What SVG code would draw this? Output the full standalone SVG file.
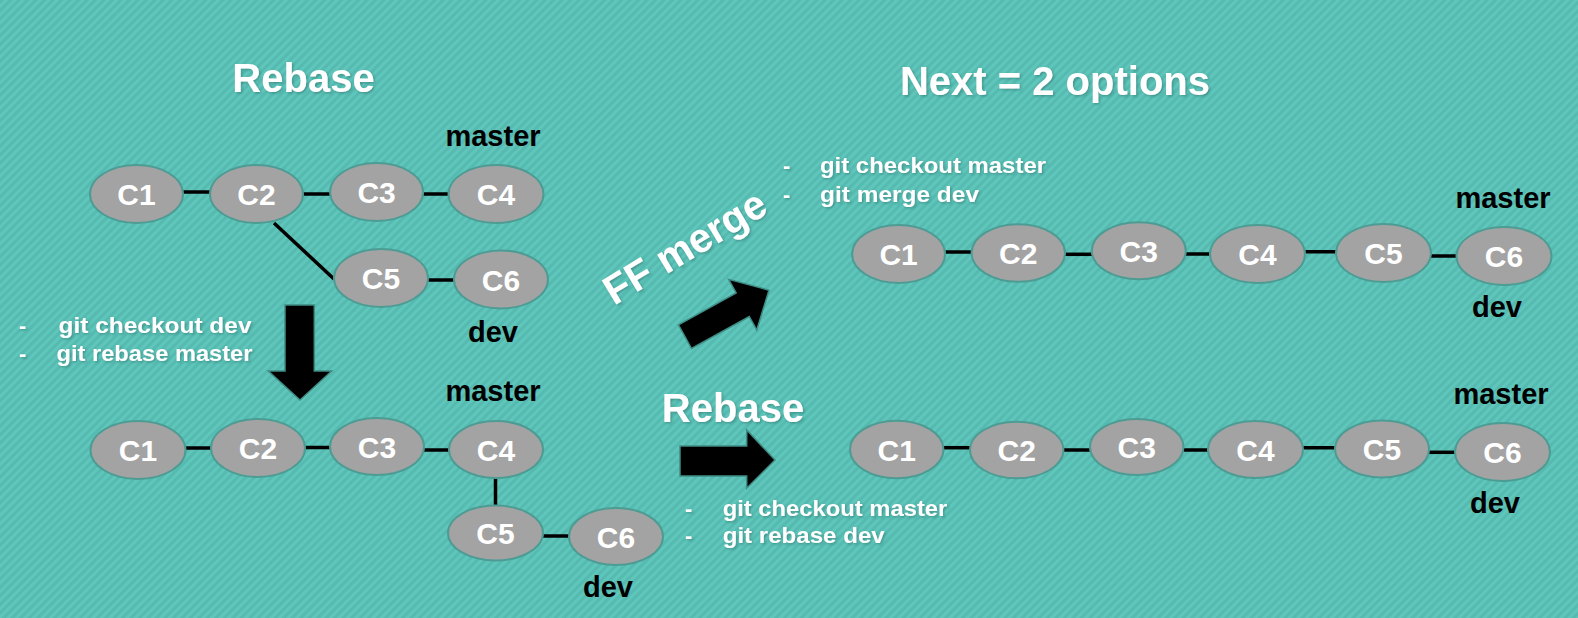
<svg xmlns="http://www.w3.org/2000/svg" width="1578" height="618" viewBox="0 0 1578 618">
<defs>
<pattern id="stripes" patternUnits="userSpaceOnUse" width="6" height="6" patternTransform="rotate(-45)">
<rect width="6" height="6" fill="#5ec6bb"/>
<rect width="6" height="3" fill="#56bab0"/>
</pattern>
<filter id="sh" x="-10%" y="-20%" width="120%" height="140%">
<feDropShadow dx="1.5" dy="1.5" stdDeviation="1" flood-color="#2a6f68" flood-opacity="0.5"/>
</filter>
</defs>
<style>
.n ellipse{fill:#a3a3a3;stroke:#4d9c94;stroke-width:2}
.n text{font-family:"Liberation Sans",Arial,sans-serif;font-weight:bold;font-size:30px;fill:#ffffff;text-anchor:middle}
.lbl{font-family:"Liberation Sans",Arial,sans-serif;font-weight:bold;font-size:29px;fill:#000000;text-anchor:middle}
.title{font-family:"Liberation Sans",Arial,sans-serif;font-weight:bold;font-size:40px;fill:#ffffff;text-anchor:middle}
.cmd{font-family:"Liberation Sans",Arial,sans-serif;font-weight:bold;font-size:22px;fill:#ffffff}
.con line{stroke:#000000;stroke-width:3.5}
.arr{fill:#000000;stroke:#3f8c84;stroke-width:1.5}
</style>
<rect width="1578" height="618" fill="url(#stripes)"/>

<!-- titles -->
<g id="titles" filter="url(#sh)">
<text class="title" x="303.5" y="92">Rebase</text>
<text class="title" x="1055" y="95">Next = 2 options</text>
<text class="title" x="733" y="421.7">Rebase</text>
<text class="title" x="0" y="0" transform="translate(614,306) rotate(-31)" style="text-anchor:start;font-size:41px" textLength="182" lengthAdjust="spacingAndGlyphs">FF merge</text>
</g>

<!-- command texts -->
<g id="commands" filter="url(#sh)">
<text class="cmd" x="19" y="333">-</text>
<text class="cmd" x="58.5" y="333" textLength="193" lengthAdjust="spacingAndGlyphs">git checkout dev</text>
<text class="cmd" x="19" y="361">-</text>
<text class="cmd" x="56.5" y="361" textLength="196" lengthAdjust="spacingAndGlyphs">git rebase master</text>
<text class="cmd" x="783" y="173">-</text>
<text class="cmd" x="820" y="173" textLength="226" lengthAdjust="spacingAndGlyphs">git checkout master</text>
<text class="cmd" x="783" y="201.7">-</text>
<text class="cmd" x="820" y="201.7" textLength="159" lengthAdjust="spacingAndGlyphs">git merge dev</text>
<text class="cmd" x="685" y="515.7">-</text>
<text class="cmd" x="722.7" y="515.7" textLength="224.6" lengthAdjust="spacingAndGlyphs">git checkout master</text>
<text class="cmd" x="685" y="543.3">-</text>
<text class="cmd" x="722.7" y="543.3" textLength="162" lengthAdjust="spacingAndGlyphs">git rebase dev</text>
</g>

<!-- big arrows -->
<g id="arrows">
<polygon class="arr" points="285,305 314.3,305 314.3,371 331.7,371 300,400 268.3,371 285,371"/>
<polygon class="arr" points="680,446 746.7,446 746.7,430 775,460 746.7,488.3 746.7,476 680,476"/>
<polygon class="arr" transform="translate(685,336.7) rotate(-29)" points="0,-13.5 66,-13.5 66,-29 96,0 66,29 66,13.5 0,13.5"/>
</g>

<!-- connectors -->
<g id="connectors" class="con">
<line x1="183" y1="192" x2="210" y2="192"/>
<line x1="302" y1="194" x2="330" y2="194"/>
<line x1="422" y1="194" x2="449" y2="194"/>
<line x1="274" y1="223" x2="334" y2="279"/>
<line x1="427" y1="280" x2="455" y2="280"/>

<line x1="184" y1="448" x2="212" y2="448"/>
<line x1="303" y1="447.5" x2="331" y2="447.5"/>
<line x1="423" y1="450" x2="450" y2="450"/>
<line x1="495.5" y1="478" x2="495.5" y2="505"/>
<line x1="542" y1="536" x2="570" y2="536"/>

<line x1="944" y1="252" x2="972" y2="252"/>
<line x1="1064" y1="254.3" x2="1093" y2="254.3"/>
<line x1="1184" y1="254" x2="1211" y2="254"/>
<line x1="1304" y1="251.7" x2="1337" y2="251.7"/>
<line x1="1430" y1="256" x2="1458" y2="256"/>

<line x1="942" y1="447.7" x2="971" y2="447.7"/>
<line x1="1062" y1="450" x2="1091" y2="450"/>
<line x1="1182" y1="450" x2="1209" y2="450"/>
<line x1="1301" y1="447.7" x2="1336" y2="447.7"/>
<line x1="1428" y1="452.3" x2="1456" y2="452.3"/>
</g>

<!-- top-left graph -->
<g id="tl-c1" class="n"><ellipse cx="136.5" cy="194" rx="46.5" ry="29"/><text x="136.5" y="205">C1</text></g>
<g id="tl-c2" class="n"><ellipse cx="256.5" cy="194" rx="46.5" ry="29"/><text x="256.5" y="205">C2</text></g>
<g id="tl-c3" class="n"><ellipse cx="376.6" cy="192" rx="46.5" ry="29"/><text x="376.6" y="203">C3</text></g>
<g id="tl-c4" class="n"><ellipse cx="496" cy="194" rx="47.5" ry="29"/><text x="496" y="205">C4</text></g>
<g id="tl-c5" class="n"><ellipse cx="381" cy="278" rx="47" ry="29"/><text x="381" y="289">C5</text></g>
<g id="tl-c6" class="n"><ellipse cx="501" cy="279.5" rx="47" ry="29"/><text x="501" y="290.5">C6</text></g>
<text id="tl-master" class="lbl" x="493" y="146">master</text>
<text id="tl-dev" class="lbl" x="493" y="341.7">dev</text>

<!-- middle-left graph -->
<g id="ml-c1" class="n"><ellipse cx="138" cy="450" rx="47.5" ry="29"/><text x="138" y="461">C1</text></g>
<g id="ml-c2" class="n"><ellipse cx="258" cy="448" rx="47" ry="29"/><text x="258" y="459">C2</text></g>
<g id="ml-c3" class="n"><ellipse cx="377" cy="446.5" rx="47" ry="28.5"/><text x="377" y="457.5">C3</text></g>
<g id="ml-c4" class="n"><ellipse cx="496" cy="449.5" rx="47" ry="28.5"/><text x="496" y="460.5">C4</text></g>
<g id="ml-c5" class="n"><ellipse cx="495.5" cy="533" rx="47.5" ry="27.5"/><text x="495.5" y="544">C5</text></g>
<g id="ml-c6" class="n"><ellipse cx="616" cy="536.5" rx="47" ry="28.5"/><text x="616" y="547.5">C6</text></g>
<text id="ml-master" class="lbl" x="493" y="400.7">master</text>
<text id="ml-dev" class="lbl" x="608" y="596.7">dev</text>

<!-- top-right graph -->
<g id="tr-c1" class="n"><ellipse cx="898.6" cy="254" rx="46.5" ry="29"/><text x="898.6" y="265">C1</text></g>
<g id="tr-c2" class="n"><ellipse cx="1018.3" cy="253" rx="46.7" ry="28.7"/><text x="1018.3" y="264">C2</text></g>
<g id="tr-c3" class="n"><ellipse cx="1138.8" cy="250.7" rx="47" ry="28.5"/><text x="1138.8" y="261.7">C3</text></g>
<g id="tr-c4" class="n"><ellipse cx="1257.5" cy="254" rx="47.5" ry="29"/><text x="1257.5" y="265">C4</text></g>
<g id="tr-c5" class="n"><ellipse cx="1383.5" cy="253" rx="47.5" ry="29"/><text x="1383.5" y="264">C5</text></g>
<g id="tr-c6" class="n"><ellipse cx="1504" cy="256" rx="47.5" ry="29"/><text x="1504" y="267">C6</text></g>
<text id="tr-master" class="lbl" x="1503" y="208.3">master</text>
<text id="tr-dev" class="lbl" x="1497" y="316.7">dev</text>

<!-- bottom-right graph -->
<g id="br-c1" class="n"><ellipse cx="896.7" cy="449.5" rx="46.7" ry="28.8"/><text x="896.7" y="460.5">C1</text></g>
<g id="br-c2" class="n"><ellipse cx="1016.7" cy="450" rx="46.7" ry="28.3"/><text x="1016.7" y="461">C2</text></g>
<g id="br-c3" class="n"><ellipse cx="1136.7" cy="447" rx="46.7" ry="28"/><text x="1136.7" y="458">C3</text></g>
<g id="br-c4" class="n"><ellipse cx="1255.5" cy="449.5" rx="47.5" ry="28.5"/><text x="1255.5" y="460.5">C4</text></g>
<g id="br-c5" class="n"><ellipse cx="1382" cy="449" rx="47" ry="28.5"/><text x="1382" y="460">C5</text></g>
<g id="br-c6" class="n"><ellipse cx="1502.5" cy="452" rx="47.5" ry="29"/><text x="1502.5" y="463">C6</text></g>
<text id="br-master" class="lbl" x="1501" y="404.3">master</text>
<text id="br-dev" class="lbl" x="1495" y="513.3">dev</text>
</svg>
